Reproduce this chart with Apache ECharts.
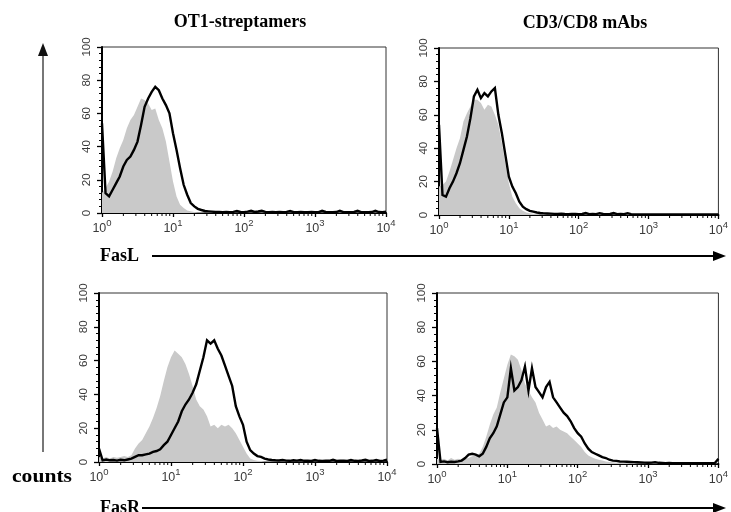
<!DOCTYPE html>
<html>
<head>
<meta charset="utf-8">
<script src="https://cdn.jsdelivr.net/npm/echarts@6/dist/echarts.min.js"></script>
<style>
  html, body { margin: 0; padding: 0; background: #fff; }
  #chart { width: 731px; height: 512px; }
</style>
</head>
<body>
<div id="chart"></div>
<script>
// Histogram bin centres, in decades of fluorescence (log10 of intensity).
const decades = [
  0.00,0.05,0.10,0.15,0.20,0.25,0.30,0.35,0.40,0.45,
  0.50,0.55,0.60,0.65,0.70,0.75,0.80,0.85,0.90,0.95,
  1.00,1.05,1.10,1.15,1.20,1.25,1.30,1.35,1.40,1.45,
  1.50,1.55,1.60,1.65,1.70,1.75,1.80,1.85,1.90,1.95,
  2.00,2.05,2.10,2.15,2.20,2.25,2.30,2.35,2.40,2.45,
  2.50,2.55,2.60,2.65,2.70,2.75,2.80,2.85,2.90,2.95,
  3.00,3.05,3.10,3.15,3.20,3.25,3.30,3.35,3.40,3.45,
  3.50,3.55,3.60,3.65,3.70,3.75,3.80,3.85,3.90,3.95,
  4.00
];

// Column titles and axis captions
const columnTitles = ['OT1-streptamers', 'CD3/CD8 mAbs'];
const rowMarkers = ['FasL', 'FasR'];
const countsCaption = 'counts';

// Tick values
const xMajorExponents = [0, 1, 2, 3, 4];
const xMinorTicks = [2,3,4,5,6,7,8,9, 20,30,40,50,60,70,80,90,
  200,300,400,500,600,700,800,900, 2000,3000,4000,5000,6000,7000,8000,9000];
const yTicks = [0, 20, 40, 60, 80, 100];

// FasL, OT1-streptamers: control (grey) and stained (black)
const faslStrepControl = [
  12,15,19,25,33,39,44,51,56,59,
  64,69,68,66,62,63,56,51,43,31,
  19,10,5,3,1.5,1,0.6,
  0.4,0.5,0.3,0.4,0.5,0.3,0.4,0.3,0.4,0.3,
  0.4,0.3,0.3,0.4,0.3,0.3,0.3,0.3,0.3,0.3,
  0.3,0.3,0.3,0.3,0.3,0.3,0.3,0.3,0.3,0.3,
  0.3,0.3,0.3,0.3,0.3,0.3,0.3,0.3,0.3,0.3,
  0.3,0.3,0.3,0.3,0.3,0.3,0.3,0.3,0.3,0.3,
  0.3,0.3,0.3,0.3
];
const faslStrepStained = [
  54,12,10,14,18,22,28,32,34,38,
  43,53,64,69,73,76,74,69,65,60,
  48,38,27,17,11,6,4,2.5,1.8,1.2,
  1,
  0.8,0.6,0.7,0.5,0.6,0.5,0.7,1.2,0.6,0.5,
  0.8,1.3,0.6,0.9,1.4,0.7,0.5,0.6,0.5,0.6,
  0.5,0.7,1.2,0.5,0.5,0.6,0.5,0.5,0.6,0.5,
  0.5,1.3,0.6,0.5,0.5,0.6,1.4,0.5,0.5,0.5,
  0.6,1.3,0.5,0.5,0.5,0.6,1.4,0.6,0.5,0.8
];

// FasL, CD3/CD8 mAbs
const faslMabControl = [
  17,18,20,26,33,40,46,56,61,65,
  69,69,67,63,66,65,60,54,43,31,
  19,11,7,4,2.5,1.5,1,
  0.8,0.6,0.5,0.6,0.4,0.5,0.4,0.5,0.4,0.4,
  0.5,0.4,0.4,0.3,0.4,0.5,0.4,0.3,0.4,0.4,
  0.3,0.4,0.3,0.3,0.4,0.3,0.3,0.4,0.3,0.3,
  0.3,0.3,0.4,0.3,0.3,0.3,0.3,0.3,0.3,0.3,
  0.3,0.3,0.3,0.3,0.3,0.3,0.3,0.3,0.3,0.3,
  0.3,0.3,0.3,0.3
];
const faslMabStained = [
  54,12,11,16,20,25,31,39,47,58,
  71,75,70,73,71,74,76,60,49,36,
  23,17,13,8,5,3.5,2.5,2,1.5,1.2,
  1,
  0.9,0.8,0.7,0.6,0.8,0.6,0.5,0.7,0.6,0.5,
  0.6,1.2,0.5,0.6,0.5,1.1,0.6,0.5,0.6,1.2,
  0.5,0.6,0.5,1.1,0.5,0.4,0.3,0.3,0.3,0.3,
  0.3,0.3,0.3,0.3,0.3,0.3,0.3,0.3,0.3,0.3,
  0.3,0.3,0.3,0.3,0.3,0.3,0.3,0.3,0.3,0.3
];

// FasR, OT1-streptamers
const fasrStrepControl = [
  3,2,3,2,3,2.5,3,3.5,3,4,
  8,11,13,17,21,26,32,39,48,56,
  62,66,64,62,58,52,45,37,33,31,
  27,21,22,20,22,21,22,20,17,13,
  9,5,2,1.2,0.8,
  0.6,0.5,0.5,0.4,0.5,0.4,0.4,0.4,0.3,0.4,
  0.3,0.3,0.4,0.3,0.3,0.3,0.3,0.3,0.3,0.3,
  0.3,0.3,0.3,0.3,0.3,0.3,0.3,0.3,0.3,0.3,
  0.3,0.3,0.3,0.3,0.3,0.3
];
const fasrStrepStained = [
  8,1,1.5,1,1.2,0.8,1.3,1,1.5,2,
  3,4,4,4.5,5,6,6.5,7.5,10,12,
  16,20,24,30,34,37,41,46,54,62,
  72,70,72,67,63,57,51,45,33,27,
  22,12,7,5,3.5,3,2,1.5,1.2,1,
  0.9,1.2,0.8,0.7,1.0,0.8,1.2,0.7,0.8,0.6,
  1.2,0.7,0.6,0.8,0.7,1.3,0.6,0.7,0.8,0.6,
  1.2,0.7,0.6,0.9,1.3,0.6,0.7,1.2,0.6,0.8,
  1.4
];

// FasR, CD3/CD8 mAbs
const fasrMabControl = [
  3,2.5,3,2,3.5,2.5,3,2.5,3,3.5,
  4.5,5,6,10,16,23,29,33,42,50,
  58,64,63,61,55,47,43,39,36,30,
  26,22,23,21,22,20,19,18,16,14,
  12,10,7,5,4,3,2.5,2,1.5,1.2,
  1,0.9,0.8,0.7,0.7,0.6,0.6,0.5,0.6,0.5,
  0.5,0.5,0.4,0.5,0.4,0.4,0.4,0.4,0.4,0.4,
  0.4,0.4,0.4,0.5,0.4,0.4,0.4,0.4,0.4,0.4,
  0.4
];
const fasrMabStained = [
  21,1.2,1.5,1,1.3,1.2,1.5,2,3.5,5.5,
  6,5.5,4.5,6,10,15,18,22,29,36,
  39,56,43,45,49,57,43,56,45,42,
  39,45,48,39,36,33,30,28,25,21,
  18,16,12,9,7,6,5,4,3.5,2.5,
  2,1.8,1.5,1.4,1.3,1.2,1.1,1,
  0.9,0.8,0.7,0.8,1.1,0.7,0.6,0.5,0.6,0.5,
  0.5,0.4,0.4,0.4,0.4,0.4,0.4,0.4,0.5,0.4,
  0.4,0.6,3
];

const panels = [
  { control: faslStrepControl, stained: faslStrepStained },
  { control: faslMabControl,   stained: faslMabStained },
  { control: fasrStrepControl, stained: fasrStrepStained },
  { control: fasrMabControl,   stained: fasrMabStained }
];

// Plot rectangles (px) for the 2x2 layout
const gridBoxes = [
  { left: 102, top: 47,  width: 284, height: 166 },
  { left: 439, top: 48,  width: 284, height: 167 },
  { left: 99,  top: 293, width: 288, height: 169 },
  { left: 437, top: 293, width: 286, height: 171 }
];

const chart = echarts.init(document.getElementById('chart'), null, { renderer: 'canvas' });

const toPairs = (vals) => vals.map((v, i) => [Math.pow(10, decades[i]), v]);

const grids = [], xAxes = [], yAxes = [], series = [];
gridBoxes.forEach((g, i) => {
  grids.push(Object.assign({
    show: true, borderColor: '#333', borderWidth: 1, backgroundColor: '#fff'
  }, g));
  xAxes.push({
    type: 'log', logBase: 10, gridIndex: i, min: 1, max: 10000, splitNumber: 4,
    axisLine: { show: true, onZero: false, lineStyle: { color: '#000', width: 2 } },
    axisTick: { show: true, length: 4, lineStyle: { color: '#000', width: 1.3 } },
    splitLine: { show: false },
    axisLabel: {
      margin: 5, color: '#444',
      formatter: (v) => {
        const e = Math.round(Math.log10(v));
        return xMajorExponents.indexOf(e) >= 0 ? '{b|10}{s|' + e + '}' : '';
      },
      rich: {
        b: { fontFamily: 'Liberation Sans', fontSize: 12.5, color: '#3a3a3a', lineHeight: 17, verticalAlign: 'bottom' },
        s: { fontFamily: 'Liberation Sans', fontSize: 9.5, color: '#3a3a3a', lineHeight: 12, verticalAlign: 'top' }
      }
    }
  });
  yAxes.push({
    type: 'value', gridIndex: i, min: yTicks[0], max: yTicks[yTicks.length - 1], interval: 20,
    axisLine: { show: true, lineStyle: { color: '#000', width: 2 } },
    axisTick: { show: true, length: 5, lineStyle: { color: '#000', width: 1.3 } },
    minorTick: { show: true, splitNumber: 5, length: 3, lineStyle: { color: '#000', width: 1 } },
    splitLine: { show: false },
    axisLabel: { rotate: 90, margin: 9, color: '#3a3a3a', fontFamily: 'Liberation Sans', fontSize: 11.5 }
  });

  const p = panels[i];
  series.push({
    type: 'line', xAxisIndex: i, yAxisIndex: i,
    data: toPairs(p.control), showSymbol: false, silent: true,
    lineStyle: { width: 0 },
    areaStyle: { color: '#c9c9c9', opacity: 1 },
    z: 1
  });
  series.push({
    type: 'line', xAxisIndex: i, yAxisIndex: i,
    data: toPairs(p.stained), showSymbol: false, silent: true,
    lineStyle: { color: '#000', width: 2.4, join: 'miter' },
    z: 3
  });
  // minor decade ticks (2..9 within each decade) below the log axis
  series.push({
    type: 'custom', xAxisIndex: i, yAxisIndex: i, silent: true, clip: false,
    data: xMinorTicks.map((t) => [t, 0]),
    renderItem: (params, api) => {
      const pt = api.coord([api.value(0), 0]);
      return {
        type: 'line',
        shape: { x1: pt[0], y1: pt[1], x2: pt[0], y2: pt[1] + 3 },
        style: { stroke: '#000', lineWidth: 1 }
      };
    },
    z: 4
  });
});

const serifBold = "bold 18px 'Liberation Serif'";
const textEl = (text, x, y, align, font, sx) => ({
  type: 'text', x: x, y: y, scaleX: sx || 1, silent: true,
  style: { text: text, font: font, fill: '#000', align: align, verticalAlign: 'middle',
           textAlign: align, textVerticalAlign: 'middle' }
});

const graphics = [
  textEl(columnTitles[0], 240, 22, 'center', serifBold),
  textEl(columnTitles[1], 585, 23, 'center', serifBold),
  textEl(rowMarkers[0], 100, 256, 'left', serifBold),
  textEl(rowMarkers[1], 100, 508, 'left', serifBold),
  textEl(countsCaption, 12, 477, 'left', serifBold, 1.2),
  // vertical "counts" arrow
  { type: 'line', silent: true, shape: { x1: 43, y1: 452, x2: 43, y2: 54 }, style: { stroke: '#555', lineWidth: 1.6 } },
  { type: 'polygon', silent: true, shape: { points: [[43, 43], [38, 56], [48, 56]] }, style: { fill: '#111' } },
  // FasL arrow
  { type: 'line', silent: true, shape: { x1: 152, y1: 256, x2: 716, y2: 256 }, style: { stroke: '#000', lineWidth: 2 } },
  { type: 'polygon', silent: true, shape: { points: [[726, 256], [713, 251], [713, 261]] }, style: { fill: '#000' } },
  // FasR arrow
  { type: 'line', silent: true, shape: { x1: 142, y1: 508, x2: 716, y2: 508 }, style: { stroke: '#000', lineWidth: 2 } },
  { type: 'polygon', silent: true, shape: { points: [[726, 508], [713, 503], [713, 513]] }, style: { fill: '#000' } }
];

chart.setOption({
  animation: false,
  backgroundColor: '#fff',
  grid: grids,
  xAxis: xAxes,
  yAxis: yAxes,
  series: series,
  graphic: graphics
});
</script>
</body>
</html>
